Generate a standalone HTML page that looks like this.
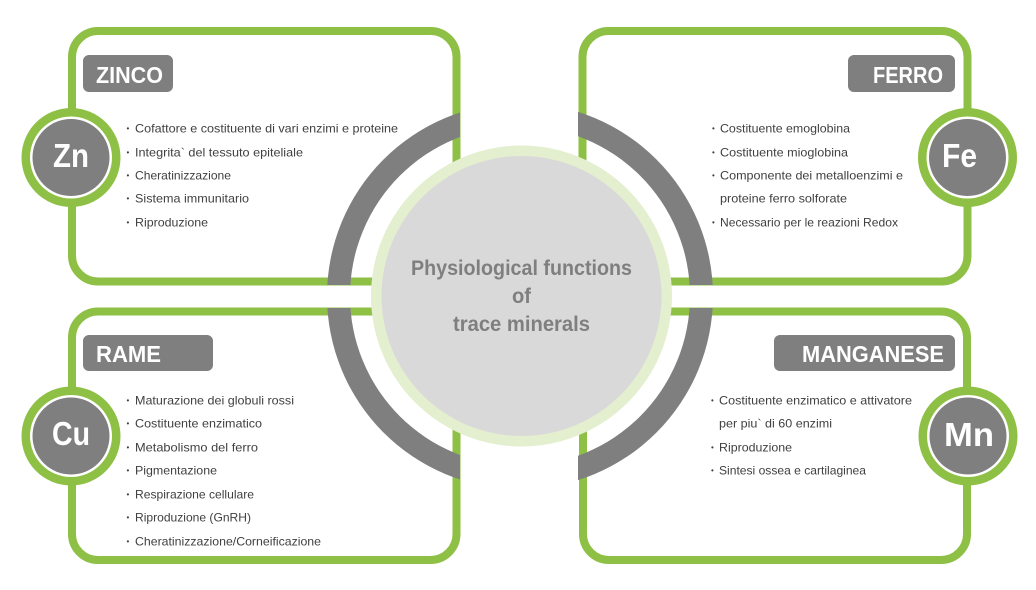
<!DOCTYPE html>
<html>
<head>
<meta charset="utf-8">
<style>
  html, body { margin: 0; padding: 0; background: #ffffff; }
  svg { display: block; }
  .b { font-family: "Liberation Sans", Arial, sans-serif; font-size: 12px; fill: #404040; }
  .d { font-family: "Liberation Sans", Arial, sans-serif; font-size: 8px; fill: #404040; }
  .l { font-family: "Liberation Sans", Arial, sans-serif; font-size: 23px; font-weight: bold; fill: #ffffff; }
  .s { font-family: "Liberation Sans", Arial, sans-serif; font-size: 33px; font-weight: bold; fill: #ffffff; }
  .c { font-family: "Liberation Sans", Arial, sans-serif; font-size: 21px; font-weight: bold; fill: #7f7f7f; }
</style>
</head>
<body>
<svg width="1036" height="590" viewBox="0 0 1036 590" xmlns="http://www.w3.org/2000/svg">
  <defs>
    <clipPath id="q">
      <rect x="0" y="0" width="460" height="285"/>
      <rect x="578" y="0" width="458" height="285"/>
      <rect x="0" y="308" width="460" height="282"/>
      <rect x="578" y="308" width="458" height="282"/>
    </clipPath>
  </defs>
  <rect x="0" y="0" width="1036" height="590" fill="#ffffff"/>

  <!-- green boxes -->
  <g fill="none" stroke="#8dc044" stroke-width="8">
    <rect x="72" y="31" width="384.5" height="250.5" rx="26" ry="26"/>
    <rect x="582.5" y="31" width="385" height="250.5" rx="26" ry="26"/>
    <rect x="72" y="311.5" width="384.5" height="248.5" rx="26" ry="26"/>
    <rect x="583" y="311.5" width="384" height="248.5" rx="26" ry="26"/>
  </g>

  <!-- gray ring arcs -->
  <path clip-path="url(#q)" fill="#7f7f7f" fill-rule="evenodd"
        d="M327,296 a193,193 0 1,0 386,0 a193,193 0 1,0 -386,0 Z
           M350,296 a170,170 0 1,0 340,0 a170,170 0 1,0 -340,0 Z"/>

  <!-- center disc -->
  <circle cx="521.5" cy="296" r="150.5" fill="#e3efcf"/>
  <circle cx="521.5" cy="296" r="140" fill="#d9d9d9"/>
  <text class="c" x="411" y="275" textLength="221" lengthAdjust="spacingAndGlyphs">Physiological functions</text>
  <text class="c" x="512" y="303" textLength="19" lengthAdjust="spacingAndGlyphs">of</text>
  <text class="c" x="453" y="331" textLength="137" lengthAdjust="spacingAndGlyphs">trace minerals</text>

  <!-- labels -->
  <rect x="83" y="55" width="90" height="37" rx="6" fill="#7f7f7f"/>
  <text class="l" x="96" y="83" textLength="67" lengthAdjust="spacingAndGlyphs">ZINCO</text>
  <rect x="848" y="55" width="107" height="37" rx="6" fill="#7f7f7f"/>
  <text class="l" x="873" y="83" textLength="70" lengthAdjust="spacingAndGlyphs">FERRO</text>
  <rect x="83" y="335" width="130" height="36" rx="6" fill="#7f7f7f"/>
  <text class="l" x="96" y="362" textLength="65" lengthAdjust="spacingAndGlyphs">RAME</text>
  <rect x="774" y="335" width="181" height="36" rx="6" fill="#7f7f7f"/>
  <text class="l" x="802" y="362" textLength="142" lengthAdjust="spacingAndGlyphs">MANGANESE</text>

  <!-- element circles -->
  <g>
    <circle cx="71" cy="157.5" r="49.5" fill="#8dc044"/>
    <circle cx="71" cy="157.5" r="41" fill="#ffffff"/>
    <circle cx="71" cy="157.5" r="38.5" fill="#7f7f7f"/>
    <text class="s" x="53" y="167" textLength="36" lengthAdjust="spacingAndGlyphs">Zn</text>

    <circle cx="967.5" cy="157.5" r="49.5" fill="#8dc044"/>
    <circle cx="967.5" cy="157.5" r="41" fill="#ffffff"/>
    <circle cx="967.5" cy="157.5" r="38.5" fill="#7f7f7f"/>
    <text class="s" x="942" y="167" textLength="35" lengthAdjust="spacingAndGlyphs">Fe</text>

    <circle cx="71" cy="436" r="49.5" fill="#8dc044"/>
    <circle cx="71" cy="436" r="41" fill="#ffffff"/>
    <circle cx="71" cy="436" r="38.5" fill="#7f7f7f"/>
    <text class="s" x="52" y="445" textLength="38" lengthAdjust="spacingAndGlyphs">Cu</text>

    <circle cx="968" cy="436" r="49.5" fill="#8dc044"/>
    <circle cx="968" cy="436" r="41" fill="#ffffff"/>
    <circle cx="968" cy="436" r="38.5" fill="#7f7f7f"/>
    <text class="s" x="944" y="446" textLength="50" lengthAdjust="spacingAndGlyphs">Mn</text>
  </g>

  <!-- top-left bullets -->
  <g>
    <text class="d" x="126.5" y="131">•</text>
    <text class="b" x="135" y="132.5" textLength="263" lengthAdjust="spacingAndGlyphs">Cofattore e costituente di vari enzimi e proteine</text>
    <text class="d" x="126.5" y="155">•</text>
    <text class="b" x="135" y="156.5" textLength="168" lengthAdjust="spacingAndGlyphs">Integrita` del tessuto epiteliale</text>
    <text class="d" x="126.5" y="178">•</text>
    <text class="b" x="135" y="179.5" textLength="96" lengthAdjust="spacingAndGlyphs">Cheratinizzazione</text>
    <text class="d" x="126.5" y="201">•</text>
    <text class="b" x="135" y="202.5" textLength="114" lengthAdjust="spacingAndGlyphs">Sistema immunitario</text>
    <text class="d" x="126.5" y="225">•</text>
    <text class="b" x="135" y="226.5" textLength="73" lengthAdjust="spacingAndGlyphs">Riproduzione</text>
  </g>

  <!-- top-right bullets -->
  <g>
    <text class="d" x="712" y="131">•</text>
    <text class="b" x="720" y="132.5" textLength="130" lengthAdjust="spacingAndGlyphs">Costituente emoglobina</text>
    <text class="d" x="712" y="155">•</text>
    <text class="b" x="720" y="156.5" textLength="128" lengthAdjust="spacingAndGlyphs">Costituente mioglobina</text>
    <text class="d" x="712" y="178">•</text>
    <text class="b" x="720" y="179.5" textLength="183" lengthAdjust="spacingAndGlyphs">Componente dei metalloenzimi e</text>
    <text class="b" x="720" y="202.5" textLength="127" lengthAdjust="spacingAndGlyphs">proteine ferro solforate</text>
    <text class="d" x="712" y="225">•</text>
    <text class="b" x="720" y="226.5" textLength="178" lengthAdjust="spacingAndGlyphs">Necessario per le reazioni Redox</text>
  </g>

  <!-- bottom-left bullets -->
  <g>
    <text class="d" x="126.5" y="403">•</text>
    <text class="b" x="135" y="404.5" textLength="159" lengthAdjust="spacingAndGlyphs">Maturazione dei globuli rossi</text>
    <text class="d" x="126.5" y="426">•</text>
    <text class="b" x="135" y="427.5" textLength="127" lengthAdjust="spacingAndGlyphs">Costituente enzimatico</text>
    <text class="d" x="126.5" y="450">•</text>
    <text class="b" x="135" y="451.5" textLength="123" lengthAdjust="spacingAndGlyphs">Metabolismo del ferro</text>
    <text class="d" x="126.5" y="473">•</text>
    <text class="b" x="135" y="474.5" textLength="82" lengthAdjust="spacingAndGlyphs">Pigmentazione</text>
    <text class="d" x="126.5" y="497">•</text>
    <text class="b" x="135" y="498.5" textLength="119" lengthAdjust="spacingAndGlyphs">Respirazione cellulare</text>
    <text class="d" x="126.5" y="520">•</text>
    <text class="b" x="135" y="521.5" textLength="116" lengthAdjust="spacingAndGlyphs">Riproduzione (GnRH)</text>
    <text class="d" x="126.5" y="544">•</text>
    <text class="b" x="135" y="545.5" textLength="186" lengthAdjust="spacingAndGlyphs">Cheratinizzazione/Corneificazione</text>
  </g>

  <!-- bottom-right bullets -->
  <g>
    <text class="d" x="711" y="403">•</text>
    <text class="b" x="719" y="404.5" textLength="193" lengthAdjust="spacingAndGlyphs">Costituente enzimatico e attivatore</text>
    <text class="b" x="719" y="427.5" textLength="113" lengthAdjust="spacingAndGlyphs">per piu` di 60 enzimi</text>
    <text class="d" x="711" y="450">•</text>
    <text class="b" x="719" y="451.5" textLength="73" lengthAdjust="spacingAndGlyphs">Riproduzione</text>
    <text class="d" x="711" y="473">•</text>
    <text class="b" x="719" y="474.5" textLength="147" lengthAdjust="spacingAndGlyphs">Sintesi ossea e cartilaginea</text>
  </g>
</svg>
</body>
</html>
